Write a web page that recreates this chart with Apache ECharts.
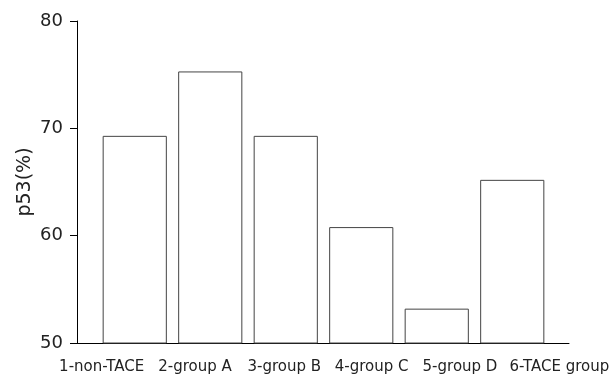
<!DOCTYPE html>
<html><head><meta charset="utf-8">
<script src="https://cdn.jsdelivr.net/npm/echarts@6/dist/echarts.min.js"></script>
<style>html,body{margin:0;padding:0;background:#fff}#c{width:616px;height:376px}</style>
</head><body><div id="c"></div>
<script>
var categories = ['1-non-TACE', '2-group A', '3-group B', '4-group C', '5-group D', '6-TACE group'];
var values = [69.3, 75.3, 69.3, 60.8, 53.2, 65.2];
var yTicks = [50, 60, 70, 80];
var yName = 'p53(%)';

var chart = echarts.init(document.getElementById('c'), null, {renderer: 'canvas'});
var font = 'DejaVu Sans, Arial, sans-serif';
var yMin = yTicks[0], yMax = yTicks[yTicks.length - 1];
// per-label horizontal nudges (style only)
var labelPads = [[0,0,0,0],[0,0,0,4],[0,0,0,0],[0,8,0,0],[0,14,0,0],[0,0,0,2]];
var labelData = categories.map(function (c, i) {
  return {value: c, textStyle: {padding: labelPads[i]}};
});
chart.setOption({
  animation: false,
  backgroundColor: '#fff',
  grid: [
    {left: 77, right: 47, top: 21, bottom: 33, containLabel: false},
    {left: 97, right: 66, top: 21, bottom: 33, containLabel: false},
    {left: 56, right: 12, top: 21, bottom: 33, containLabel: false}
  ],
  xAxis: [
    {type: 'value', gridIndex: 0, min: 0, max: 1, axisLine: {show: true, lineStyle: {color: '#000', width: 1}},
     axisTick: {show: false}, axisLabel: {show: false}, splitLine: {show: false}},
    {type: 'category', gridIndex: 1, data: categories, axisLine: {show: false}, axisTick: {show: false},
     axisLabel: {show: false}},
    {type: 'category', gridIndex: 2, data: labelData, axisLine: {show: false}, axisTick: {show: false},
     axisLabel: {interval: 0, color: '#222', fontSize: 15, fontFamily: font, margin: 17}}
  ],
  yAxis: [
    {type: 'value', gridIndex: 0, min: yMin, max: yMax, interval: 10,
     name: yName, nameLocation: 'middle', nameGap: 42, nameRotate: 90, nameMoveOverlap: false,
     nameTextStyle: {color: '#222', fontSize: 19, fontFamily: font},
     axisLine: {show: true, lineStyle: {color: '#000', width: 1}},
     axisTick: {show: true, inside: false, length: 7, lineStyle: {color: '#000'}},
     axisLabel: {color: '#222', fontSize: 18, fontFamily: font, margin: 14},
     splitLine: {show: false}},
    {type: 'value', gridIndex: 1, min: yMin, max: yMax, interval: 10, show: false},
    {type: 'value', gridIndex: 2, min: yMin, max: yMax, interval: 10, show: false}
  ],
  series: [{
    type: 'bar', xAxisIndex: 1, yAxisIndex: 1, data: values, barCategoryGap: '15%',
    itemStyle: {color: '#fff', borderColor: '#444', borderWidth: 1},
    silent: true
  }]
});
</script></body></html>
